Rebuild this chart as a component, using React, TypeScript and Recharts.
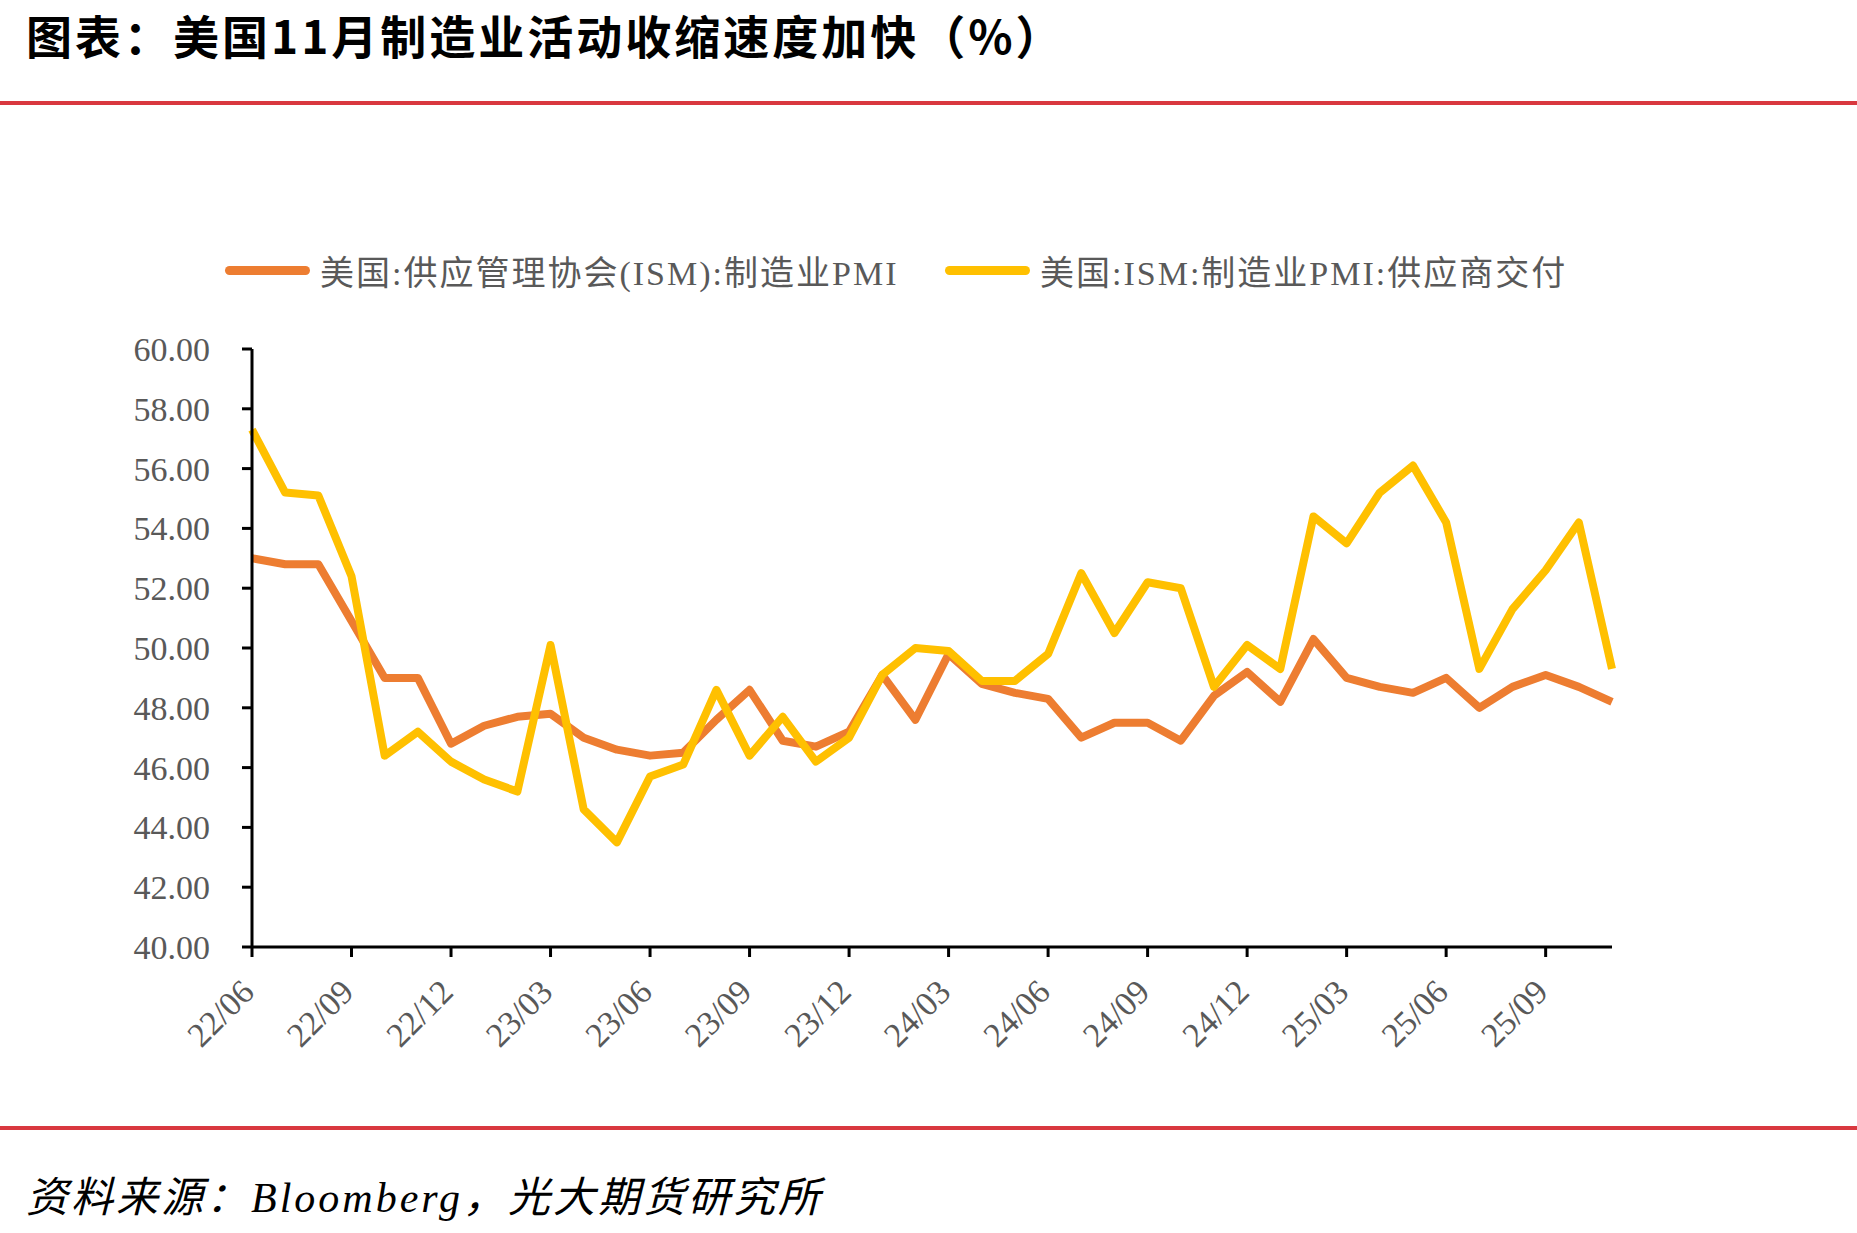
import React from 'react';
import { LineChart, Line, XAxis, YAxis } from 'recharts';

const months = [
  '22/06', '22/07', '22/08', '22/09', '22/10', '22/11', '22/12',
  '23/01', '23/02', '23/03', '23/04', '23/05', '23/06', '23/07', '23/08', '23/09', '23/10', '23/11', '23/12',
  '24/01', '24/02', '24/03', '24/04', '24/05', '24/06', '24/07', '24/08', '24/09', '24/10', '24/11', '24/12',
  '25/01', '25/02', '25/03', '25/04', '25/05', '25/06', '25/07', '25/08', '25/09', '25/10', '25/11',
];

// 美国:供应管理协会(ISM):制造业PMI
const pmi = [
  53.0, 52.8, 52.8, 50.9, 49.0, 49.0, 46.8,
  47.4, 47.7, 47.8, 47.0, 46.6, 46.4, 46.5, 47.6, 48.6, 46.9, 46.7, 47.2,
  49.1, 47.6, 49.8, 48.8, 48.5, 48.3, 47.0, 47.5, 47.5, 46.9, 48.4, 49.2,
  48.2, 50.3, 49.0, 48.7, 48.5, 49.0, 48.0, 48.7, 49.1, 48.7, 48.2,
];

// 美国:ISM:制造业PMI:供应商交付
const supplier = [
  57.3, 55.2, 55.1, 52.4, 46.4, 47.2, 46.2,
  45.6, 45.2, 50.1, 44.6, 43.5, 45.7, 46.1, 48.6, 46.4, 47.7, 46.2, 47.0,
  49.1, 50.0, 49.9, 48.9, 48.9, 49.8, 52.5, 50.5, 52.2, 52.0, 48.7, 50.1,
  49.3, 54.4, 53.5, 55.2, 56.1, 54.2, 49.3, 51.3, 52.6, 54.2, 49.3,
];

const yTicks = [40, 42, 44, 46, 48, 50, 52, 54, 56, 58, 60];

const series = [
  { key: 'pmi', name: '美国:供应管理协会(ISM):制造业PMI', color: '#ED7D31' },
  { key: 'supplier', name: '美国:ISM:制造业PMI:供应商交付', color: '#FFC000' },
];

const data = months.map((m, i) => ({ month: m, pmi: pmi[i], supplier: supplier[i] }));

const labelFont = '"Liberation Serif", "Noto Sans CJK SC", serif';
const grey = '#595959';

const XTick = (props: any) => {
  const { x, y, payload } = props;
  return (
    <g transform={`translate(${x + 4},${y + 35})`}>
      <text
        textAnchor="end"
        transform="rotate(-45)"
        fontSize={34}
        fontFamily={labelFont}
        fill={grey}
      >
        {payload.value}
      </text>
    </g>
  );
};

export default function App() {
  return (
    <div
      style={{
        position: 'absolute',
        left: 0,
        top: 0,
        width: 1857,
        height: 1233,
        background: '#fff',
        overflow: 'hidden',
      }}
    >
      {/* 标题 */}
      <div
        style={{
          position: 'absolute',
          left: 26,
          top: 11,
          fontSize: 46,
          lineHeight: '46px',
          fontWeight: 700,
          letterSpacing: 3,
          fontFamily: '"Noto Sans CJK SC", sans-serif',
          color: '#000',
          whiteSpace: 'nowrap',
        }}
      >
        图表：美国11月制造业活动收缩速度加快（%）
      </div>
      <div style={{ position: 'absolute', left: 0, top: 101, width: 1857, height: 4, background: '#D9383F' }} />

      {/* 图例 */}
      {series.map((s, i) => (
        <div
          key={s.key}
          style={{
            position: 'absolute',
            left: i === 0 ? 225 : 945,
            top: 250,
            height: 40,
            display: 'flex',
            alignItems: 'center',
            whiteSpace: 'nowrap',
          }}
        >
          <div style={{ width: 85, height: 9, borderRadius: 5, background: s.color, marginRight: 10 }} />
          <span style={{ fontSize: 34, letterSpacing: 2, fontFamily: labelFont, color: grey }}>{s.name}</span>
        </div>
      ))}

      <div style={{ position: 'absolute', left: 0, top: 0 }}>
        <LineChart
          width={1857}
          height={1233}
          data={data}
          margin={{ top: 349, right: 245, bottom: 186, left: 152 }}
        >
          <XAxis
            dataKey="month"
            interval={2}
            height={100}
            tick={<XTick />}
            tickSize={10}
            tickMargin={2}
            axisLine={{ stroke: '#000', strokeWidth: 3 }}
            tickLine={{ stroke: '#000', strokeWidth: 3 }}
          />
          <YAxis
            domain={[40, 60]}
            ticks={yTicks}
            width={100}
            tickFormatter={(v: number) => v.toFixed(2)}
            tickSize={10}
            tickMargin={32}
            axisLine={{ stroke: '#000', strokeWidth: 3 }}
            tickLine={{ stroke: '#000', strokeWidth: 3 }}
            tick={{ fontSize: 34, fontFamily: labelFont, fill: grey }}
          />
          {series.map((s) => (
            <Line
              key={s.key}
              type="linear"
              dataKey={s.key}
              name={s.name}
              stroke={s.color}
              strokeWidth={8}
              strokeLinejoin="round"
              dot={false}
              activeDot={false}
              isAnimationActive={false}
            />
          ))}
        </LineChart>
      </div>

      {/* 资料来源 */}
      <div style={{ position: 'absolute', left: 0, top: 1126, width: 1857, height: 4, background: '#D9383F' }} />
      <div
        style={{
          position: 'absolute',
          left: 26,
          top: 1176,
          fontSize: 42,
          lineHeight: '44px',
          fontStyle: 'italic',
          letterSpacing: 3,
          fontFamily: '"Liberation Serif", "Noto Sans CJK SC", serif',
          color: '#000',
          whiteSpace: 'nowrap',
        }}
      >
        资料来源：Bloomberg，光大期货研究所
      </div>
    </div>
  );
}
